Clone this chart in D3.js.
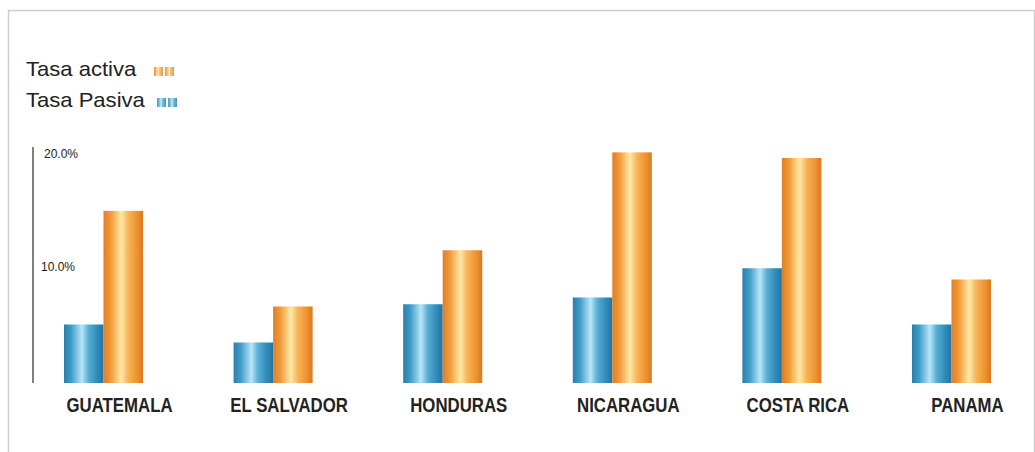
<!DOCTYPE html>
<html>
<head>
<meta charset="utf-8">
<script src="https://cdn.jsdelivr.net/npm/d3@7"></script>
<style>
  body { margin: 0; background: #fff; }
  svg { display: block; }
</style>
</head>
<body>
<svg id="chart" width="1035" height="452"></svg>
<script>
var paises = ["GUATEMALA", "EL SALVADOR", "HONDURAS", "NICARAGUA", "COSTA RICA", "PANAMA"];
var tasaPasiva = [5.2, 3.6, 7.0, 7.6, 10.2, 5.2];
var tasaActiva = [15.3, 6.8, 11.8, 20.5, 20.0, 9.2];
var tickValues = [10, 20];
var tickLabels = ["10.0%", "20.0%"];
var series = [
  { name: "Tasa Pasiva", values: tasaPasiva, grad: "gradPasiva" },
  { name: "Tasa activa", values: tasaActiva, grad: "gradActiva" }
];

var svg = d3.select("#chart"),
    width = +svg.attr("width"),
    height = +svg.attr("height");

// soft frame round the picture
svg.append("path")
    .attr("d", "M8.5,452V10.5H1034.5V452")
    .attr("fill", "none")
    .attr("stroke", "#cfcfcf")
    .attr("stroke-width", 1.5);

// bar gradients
var defs = svg.append("defs");
function gradient(id, stops) {
  var g = defs.append("linearGradient").attr("id", id)
      .attr("x1", "0%").attr("x2", "100%").attr("y1", "0%").attr("y2", "0%");
  stops.forEach(function(s) {
    g.append("stop").attr("offset", s[0]).attr("stop-color", s[1]);
  });
}
gradient("gradPasiva", [[0, "#2a7fae"], [0.18, "#3f9cc8"], [0.45, "#b8e6f7"], [0.62, "#58aed6"], [0.85, "#2f8ab8"], [1, "#2574a0"]]);
gradient("gradActiva", [[0, "#e07e26"], [0.18, "#f19a38"], [0.45, "#fee9a6"], [0.62, "#f7b55a"], [0.85, "#ef9230"], [1, "#d9791f"]]);

var x = d3.scaleBand()
    .domain(paises)
    .range([64, 991])
    .paddingInner(0.534)
    .paddingOuter(0);

var xs = d3.scaleBand()
    .domain(series.map(function(s) { return s.name; }))
    .range([0, x.bandwidth()]);

var y = d3.scaleLinear()
    .domain([0, 20])
    .range([383, 158]);

// axis line
svg.append("line")
    .attr("x1", 33).attr("x2", 33)
    .attr("y1", 147).attr("y2", y(0))
    .attr("stroke", "#555")
    .attr("stroke-width", 1.5);

svg.selectAll(".tick-label")
    .data(tickValues)
  .enter().append("text")
    .attr("class", "tick-label")
    .attr("x", function(d, i) { return i === 0 ? 41 : 44; })
    .attr("y", function(d) { return y(d) - 4; })
    .attr("dy", "0.35em")
    .attr("font-family", "Arial, 'Liberation Sans', sans-serif")
    .attr("font-size", 12)
    .attr("fill", "#222")
    .text(function(d, i) { return tickLabels[i]; });

// bars
var groups = svg.selectAll(".grupo")
    .data(paises)
  .enter().append("g")
    .attr("class", "grupo")
    .attr("transform", function(d) { return "translate(" + x(d) + ",0)"; });

groups.selectAll("rect")
    .data(function(d, i) {
      return series.map(function(s) { return { serie: s, value: s.values[i] }; });
    })
  .enter().append("rect")
    .attr("x", function(d) { return xs(d.serie.name); })
    .attr("width", xs.bandwidth())
    .attr("y", function(d) { return y(d.value); })
    .attr("height", function(d) { return y(0) - y(d.value); })
    .attr("fill", function(d) { return "url(#" + d.serie.grad + ")"; });

// condensed look: squeeze the country names horizontally
groups.append("text")
    .attr("transform", "translate(" + (x.bandwidth() / 2 + 16) + ",412) scale(0.8,1)")
    .attr("text-anchor", "middle")
    .attr("font-family", "Arial, 'Liberation Sans', sans-serif")
    .attr("font-size", 21)
    .attr("font-weight", "bold")
    .attr("fill", "#222")
    .text(function(d) { return d; });

// legend
var legend = [
  { label: "Tasa activa", grad: "gradActiva", y: 76 },
  { label: "Tasa Pasiva", grad: "gradPasiva", y: 107 }
];
var lg = svg.selectAll(".legend")
    .data(legend)
  .enter().append("g")
    .attr("class", "legend");

lg.append("text")
    .attr("transform", function(d) { return "translate(26," + d.y + ") scale(1.05,1)"; })
    .attr("font-family", "Arial, 'Liberation Sans', sans-serif")
    .attr("font-size", 21)
    .attr("fill", "#222")
    .text(function(d) { return d.label; });

[0, 11].forEach(function(off) {
  lg.append("rect")
      .attr("x", function(d, i) { return (i === 0 ? 154 : 157) + off; })
      .attr("y", function(d) { return d.y - 9; })
      .attr("width", 9)
      .attr("height", 9)
      .attr("fill", function(d) { return "url(#" + d.grad + ")"; })
      .attr("opacity", 0.8);
});
</script>
</body>
</html>
